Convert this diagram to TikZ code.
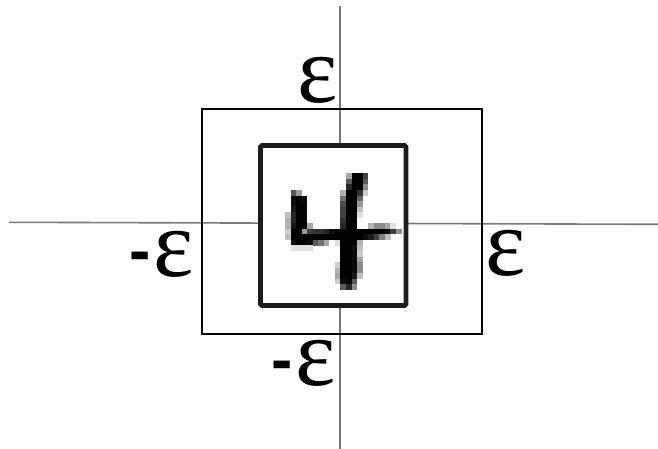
\documentclass[tikz,border=0pt]{standalone}
\usepackage{fontspec}
\usepackage{tikz}
\usepackage{xcolor}
\usetikzlibrary{positioning, calc}
\newfontfamily\epsfont{Liberation Serif}
\newfontfamily\dashfont{Liberation Sans}
\definecolor{axisgray}{RGB}{122, 122, 122}
\definecolor{framedark}{RGB}{28, 28, 28}
\newcommand{\bigeps}{ε}
\newcommand{\negeps}{\raisebox{4pt}{\dashfont\fontsize{64}{64}\selectfont\bfseries -}\kern2pt ε}
\tikzset{
    axis/.style={draw=axisgray, line width=1.6pt},
    epsbox/.style={rectangle, draw=black, line width=1.6pt, minimum width=280pt, minimum height=225pt, inner sep=0pt},
    imgbox/.style={rectangle, rounded corners=1.5pt, draw=framedark, line width=4.8pt, fill=white, minimum width=145.5pt, minimum height=160pt, inner sep=0pt},
    epslabel/.style={inner sep=0pt, font=\epsfont\fontsize{96}{96}\selectfont}
}

\begin{document}
\begin{tikzpicture}[x=1pt, y=-1pt]
    \useasboundingbox (0,0) rectangle (658,449);

    % axes
    \coordinate (ytop) at (340,6);
    \coordinate (ybot) at (340,449);
    \coordinate (xleft) at (9,222.3);
    \coordinate (xright) at (658,224.3);
    \draw[axis] (ytop) -- (ybot);
    \draw[axis] (xleft) -- (xright);

    % epsilon ball and the image
    \node[epsbox] (ball) at (342,221.5) {};
    \node[imgbox] (digit) at (333.25,225.5) {};

    % pixels of the digit, row/{col/darkness}
    \foreach \r/\row in {
        5/{15/35,16/100,17/100,18/75},
        6/{15/65,16/100,17/100,18/65},
        7/{15/85,16/100,17/100,18/45},
        8/{5/65,6/40,14/30,15/100,16/100,17/80,18/20},
        9/{5/95,6/100,7/95,14/55,15/100,16/100,17/60},
        10/{5/95,6/100,7/100,14/70,15/100,16/100,17/40},
        11/{5/90,6/100,7/100,14/75,15/100,16/100,17/25},
        12/{4/25,5/85,6/100,7/100,14/75,15/100,16/100,17/12},
        13/{4/30,5/85,6/100,7/100,14/80,15/100,16/100},
        14/{4/30,5/90,6/100,7/100,8/35,14/85,15/100,16/100,19/30,20/45,21/45,22/35,23/12},
        15/{4/20,5/100,6/100,7/40,8/75,9/80,10/80,11/85,12/95,13/100,14/100,15/100,16/100,17/100,18/100,19/100,20/100,21/100,22/95,23/75,24/45},
        16/{4/25,5/100,6/100,7/100,8/100,9/100,10/100,11/100,12/100,13/100,14/100,15/100,16/100,17/100,18/95,19/90,20/75,21/50,22/25},
        17/{5/95,6/100,7/100,8/95,9/65,10/55,11/35,13/12,14/100,15/100,16/100,17/30},
        18/{5/12,6/12,7/12,8/12,14/100,15/100,16/95,17/25},
        19/{14/100,15/100,16/95,17/20},
        20/{14/100,15/100,16/95,17/35},
        21/{13/20,14/100,15/100,16/95,17/45},
        22/{13/30,14/100,15/100,16/95,17/45},
        23/{13/35,14/100,15/100,16/90,17/25},
        24/{13/20,14/95,15/100,16/65},
        25/{14/65,15/85,16/45}}
        \foreach \c/\g in \row
            \fill[black!\g] (262.75+5.55*\c, 145.55+5.55*\r) rectangle ++(5.65,5.65);

    % labels
    \node[epslabel] (epsN) at (318,80) {\bigeps};
    \node[epslabel] (epsE) at (506,253) {\bigeps};
    \node[epslabel] (epsW) at (161.5,254) {\negeps};
    \node[epslabel] (epsS) at (303.5,363) {\negeps};
\end{tikzpicture}
\end{document}
